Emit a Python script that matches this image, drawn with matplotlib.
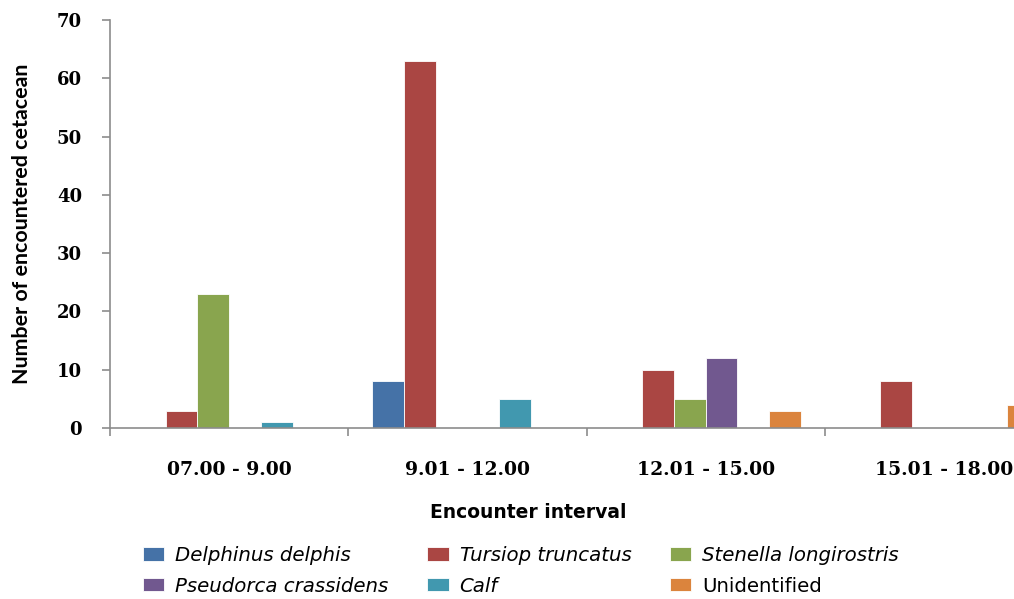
import numpy as np
import matplotlib
matplotlib.use("Agg")
import matplotlib.pyplot as plt

# encounter counts per time interval
intervals = ["07.00 - 9.00", "9.01 - 12.00", "12.01 - 15.00", "15.01 - 18.00"]
species = ["Delphinus delphis", "Tursiop truncatus", "Stenella longirostris",
           "Pseudorca crassidens", "Calf", "Unidentified"]
delphinus = [0, 8, 0, 0]
tursiops = [3, 63, 10, 8]
stenella = [23, 0, 5, 0]
pseudorca = [0, 0, 12, 0]
calf = [1, 5, 0, 0]
unidentified = [0, 0, 3, 4]
colors = ["#4572A7", "#AA4643", "#89A54E", "#71588F", "#4198AF", "#DB843D"]

series = [delphinus, tursiops, stenella, pseudorca, calf, unidentified]

fig = plt.figure(figsize=(10.14, 5.99), dpi=100)
# right edge sits past the figure so the last group is cut off
ax = fig.add_axes([110 / 1014, 171 / 599, 953 / 1014, 408 / 599])

x = np.arange(len(intervals))
width = 0.8 / len(series)
bars = []
for i, (vals, c) in enumerate(zip(series, colors)):
    b = ax.bar(x - 0.4 + width * (i + 0.5), vals, width, color=c,
               edgecolor="white", linewidth=0.6, label=species[i])
    bars.append(b)

ax.set_xlim(-0.5, len(intervals) - 0.5)
ax.set_ylim(0, 70)
ax.set_yticks(range(0, 71, 10))

axis_grey = "#8c8c8c"
for side in ["top", "right"]:
    ax.spines[side].set_visible(False)
for side in ["left", "bottom"]:
    ax.spines[side].set_color(axis_grey)
    ax.spines[side].set_linewidth(1.2)

# boundaries get tick marks, group names sit on minor ticks
ax.set_xticks(np.arange(-0.5, len(intervals), 1.0))
ax.set_xticklabels([])
ax.set_xticks(x, minor=True)
ax.set_xticklabels(intervals, minor=True)
ax.tick_params(axis="x", which="major", length=6, width=1.2, color=axis_grey, direction="out")
ax.tick_params(axis="x", which="minor", length=0, pad=24)
ax.tick_params(axis="y", length=6, width=1.2, color=axis_grey, direction="out", pad=14)

for lbl in ax.get_xticklabels(minor=True):
    lbl.set_fontfamily("DejaVu Serif")
    lbl.set_fontweight("bold")
    lbl.set_fontsize(13.5)
for lbl in ax.get_yticklabels():
    lbl.set_fontfamily("DejaVu Serif")
    lbl.set_fontweight("bold")
    lbl.set_fontsize(13)

ax.set_ylabel("Number of encountered cetacean", fontfamily="Lato",
              fontweight="bold", fontsize=15.4, labelpad=18)

fig.text(528 / 1014, 1 - 513 / 599, "Encounter interval", ha="center", va="center",
         fontfamily="DejaVu Sans", fontweight="bold", fontsize=13.5)

# legend rows: reorder since matplotlib fills column by column
order = [0, 3, 1, 4, 2, 5]
leg = fig.legend([bars[i] for i in order], [species[i] for i in order],
                 ncol=3, loc="upper left", bbox_to_anchor=(127 / 1014, 1 - 530 / 599),
                 frameon=False, handlelength=1.1, handleheight=0.68,
                 handletextpad=0.55, columnspacing=1.95, labelspacing=0.6,
                 borderpad=0.3, prop={"family": "DejaVu Sans", "size": 14.2})
for t in leg.get_texts():
    if t.get_text() != "Unidentified":
        t.set_fontstyle("italic")

fig.savefig("out.png", dpi=100)
